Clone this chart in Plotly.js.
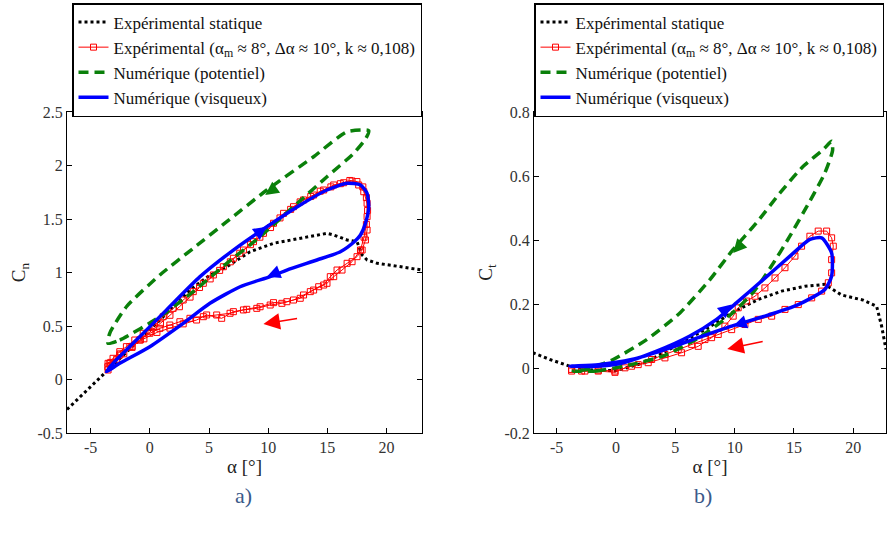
<!DOCTYPE html>
<html>
<head>
<meta charset="utf-8">
<script src="https://cdn.plot.ly/plotly-3.0.1.min.js"></script>
<style>html,body{margin:0;padding:0;background:#fff;}#chart{width:887px;height:540px;}</style>
</head>
<body>
<div id="chart"></div>
<script>
// ---------- (a) Cn ----------
const staticAlphaA = [-7, -5.3, -3.67, -1.5, 0.85, 3.39, 5.0, 6.5, 8.47, 10.45, 12.71, 14.97, 15.54, 16.67, 17.51, 17.94, 18.36, 19.21, 20.6, 23.0];
const staticCn     = [-0.28, -0.1, 0.073, 0.31, 0.556, 0.836, 0.97, 1.054, 1.194, 1.273, 1.32, 1.366, 1.35, 1.304, 1.288, 1.164, 1.117, 1.086, 1.064, 1.023];

const expAlphaA = [-3.53, -3.11, -2.54, -1.98, -1.27, -0.56, 0.28, 1.13, 1.97, 2.82, 3.67, 4.52, 5.37, 6.21, 7.06, 7.91, 8.76, 9.6, 10.45, 11.3, 12.14, 12.99, 13.84, 14.69, 15.54, 16.38, 17.09, 17.65, 18.08, 18.36, 18.36, 18.36, 18.22, 17.94,
  17.51, 16.67, 15.82, 15.25, 14.69, 13.84, 12.99, 12.14, 11.16, 10.17, 9.04, 7.91, 6.78, 5.65, 4.52, 3.39, 2.54, 1.69, 0.85, 0, -0.85, -1.69, -2.54, -3.39, -3.53,
  -3.3, -2.8, -2.2, -1.5, -0.8, 0.1, 0.9, 1.7, 2.5, 3.4, 4.2, 5.1, 5.9, 6.8, 7.6, 8.5, 9.3, 10.2, 11.0, 11.9, 12.7, 13.6, 14.4, 15.3, 16.1, 16.9, 17.5, 18.0, 18.3, 18.4, 18.3, 18.1, 17.8,
  17.09, 16.24, 15.54, 14.97, 14.27, 13.56, 12.71, 11.58, 10.45, 9.32, 8.19, 7.06, 6.07, 4.8, 3.95, 2.82, 1.7, 0.6, -0.5, -1.5, -2.5, -3.3, -3.55];
const expCn = [0.151, 0.198, 0.26, 0.307, 0.369, 0.432, 0.494, 0.587, 0.665, 0.743, 0.821, 0.899, 0.977, 1.054, 1.133, 1.21, 1.288, 1.366, 1.46, 1.553, 1.615, 1.678, 1.724, 1.771, 1.818, 1.839, 1.855, 1.818, 1.755, 1.647, 1.522, 1.397, 1.304, 1.21,
  1.148, 1.086, 1.023, 0.961, 0.883, 0.836, 0.79, 0.743, 0.712, 0.696, 0.665, 0.65, 0.619, 0.603, 0.587, 0.572, 0.54, 0.509, 0.478, 0.432, 0.369, 0.307, 0.229, 0.151, 0.089,
  0.13, 0.19, 0.24, 0.3, 0.37, 0.45, 0.52, 0.6, 0.68, 0.77, 0.86, 0.94, 1.02, 1.1, 1.18, 1.26, 1.33, 1.42, 1.51, 1.59, 1.66, 1.71, 1.76, 1.8, 1.83, 1.86, 1.85, 1.8, 1.7, 1.58, 1.45, 1.33, 1.21,
  1.101, 1.023, 0.961, 0.899, 0.867, 0.821, 0.759, 0.727, 0.718, 0.68, 0.656, 0.634, 0.572, 0.603, 0.556, 0.52, 0.48, 0.44, 0.38, 0.31, 0.24, 0.16, 0.12];

const potAlphaA = [-3.53, -2.54, 0.85, 3.67, 6.5, 9.32, 12.14, 14.97, 17.23, 18.26, 18.5, 16.67, 13.84, 9.89, 6.5, 3.67, 0.85, -1.98, -3.39, -3.53];
const potCn     = [0.338, 0.369, 0.587, 0.821, 1.086, 1.335, 1.615, 1.895, 2.114, 2.254, 2.325, 2.316, 2.082, 1.771, 1.475, 1.226, 0.977, 0.68, 0.432, 0.338];

const viscAlphaA = [-3.67, -3.11, -1.41, 1.41, 4.24, 7.06, 9.89, 12.71, 14.97, 16.67, 17.8, 18.36, 18.5, 18.22, 17.8, 17.3, 16.1, 14.12, 11.58, 10.17, 7.63, 5.08, 2.82, 0, -2.54, -3.67];
const viscCn     = [0.073, 0.151, 0.338, 0.65, 0.961, 1.21, 1.428, 1.631, 1.771, 1.834, 1.818, 1.74, 1.615, 1.46, 1.35, 1.29, 1.194, 1.117, 1.023, 0.961, 0.867, 0.712, 0.525, 0.307, 0.151, 0.073];

// ---------- (b) Ct ----------
const staticAlphaB = [-7, -5.56, -3.88, -2, 0, 2.5, 4.97, 7.5, 9.75, 11.99, 13.96, 15.92, 17.6, 19.0, 20.83, 21.96, 22.38, 22.75];
const staticCt     = [0.05, 0.029, 0.008, -0.004, -0.006, 0.02, 0.07, 0.122, 0.174, 0.216, 0.242, 0.257, 0.263, 0.23, 0.214, 0.195, 0.133, 0.06];

const expAlphaB = [-3.73, -2.61, -1.49, -0.08, 1.32, 2.72, 4.13, 5.53, 6.93, 8.06, 9.18, 9.88, 10.3, 11.01, 11.71, 12.55, 13.4, 14.24, 15.08, 15.64, 16.34, 17.04, 17.75, 18.17, 18.31, 18.17, 18.17, 17.89,
  17.33, 16.49, 15.36, 14.24, 13.12, 11.99, 10.87, 9.75, 8.62, 7.5, 6.38, 5.25, 4.13, 3.01, 1.88, 0.76, -0.08, -1.49, -2.89, -3.73];
const expCt = [-0.007, -0.007, -0.004, -0.007, 0.008, 0.019, 0.034, 0.05, 0.07, 0.097, 0.133, 0.164, 0.19, 0.211, 0.226, 0.252, 0.283, 0.315, 0.351, 0.382, 0.413, 0.429, 0.429, 0.408, 0.382, 0.34, 0.299, 0.268,
  0.242, 0.221, 0.2, 0.185, 0.164, 0.154, 0.138, 0.122, 0.107, 0.091, 0.076, 0.06, 0.045, 0.029, 0.013, 0.003, -0.011, -0.007, -0.007, -0.002];

const potAlphaB = [-3.6, -1.63, 1.18, 4.0, 6.9, 9.7, 11.6, 13.1, 14.6, 16.3, 17.6, 18.25, 18.17, 17.47, 15.78, 13.82, 11.85, 9.88, 7.92, 5.39, 2.59, -0.23, -2.47, -3.6];
const potCt     = [-0.007, -0.007, 0.012, 0.04, 0.095, 0.17, 0.24, 0.32, 0.41, 0.52, 0.61, 0.68, 0.709, 0.683, 0.631, 0.548, 0.455, 0.372, 0.278, 0.174, 0.091, 0.029, -0.002, -0.007];

const viscAlphaB = [-3.88, -1.63, 0.62, 3.43, 6.23, 8.48, 10.17, 12.41, 14.66, 16.34, 17.33, 18.17, 18.17, 17.6, 15.36, 12.55, 9.75, 6.93, 4.13, 1.32, -1.49, -3.88];
const viscCt     = [0.008, 0.008, 0.019, 0.055, 0.102, 0.154, 0.206, 0.278, 0.351, 0.403, 0.408, 0.361, 0.289, 0.247, 0.2, 0.164, 0.133, 0.097, 0.06, 0.029, 0.013, 0.008];

// ---------- labels / ticks ----------
const seriesNames = ['Expérimental statique', 'Expérimental (α<sub>m</sub> ≈ 8°, Δα ≈ 10°, k ≈ 0,108)', 'Numérique (potentiel)', 'Numérique (visqueux)'];
const xTickVals = [-5, 0, 5, 10, 15, 20];
const xTickText = ['-5', '0', '5', '10', '15', '20'];
const cnTickVals = [-0.5, 0, 0.5, 1, 1.5, 2, 2.5];
const cnTickText = ['-0.5', '0', '0.5', '1', '1.5', '2', '2.5'];
const ctTickVals = [-0.2, 0, 0.2, 0.4, 0.6, 0.8];
const ctTickText = ['-0.2', '0', '0.2', '0.4', '0.6', '0.8'];
const panelLabels = ['a)', 'b)'];

const SERIF = '"Liberation Serif", "Times New Roman", serif';
const W = 887, H = 540;

function panelTraces(xa, ya, leg, sets) {
  const [sA, sY, eA, eY, pA, pY, vA, vY] = sets;
  return [
    {x: sA, y: sY, xaxis: xa, yaxis: ya, legend: leg, legendgroup: leg + 's', name: seriesNames[0], mode: 'lines',
     line: {color: '#000', width: 3, dash: 'dot'}},
    {x: eA, y: eY, xaxis: xa, yaxis: ya, legend: leg, legendgroup: leg + 'e', name: seriesNames[1], mode: 'lines+markers',
     line: {color: '#ff0000', width: 1}, marker: {symbol: 'square-open', size: 6, color: '#ff0000', line: {width: 1}}},
    {x: pA, y: pY, xaxis: xa, yaxis: ya, legend: leg, legendgroup: leg + 'p', name: seriesNames[2], mode: 'lines',
     line: {color: '#0a800a', width: 3.5, dash: '10px,6px', shape: 'spline', smoothing: 0.6}},
    {x: vA, y: vY, xaxis: xa, yaxis: ya, legend: leg, legendgroup: leg + 'v', name: seriesNames[3], mode: 'lines',
     line: {color: '#0000ff', width: 3.5, shape: 'spline', smoothing: 0.6}}
  ];
}

const data = [].concat(
  panelTraces('x', 'y', 'legend', [staticAlphaA, staticCn, expAlphaA, expCn, potAlphaA, potCn, viscAlphaA, viscCn]),
  panelTraces('x2', 'y2', 'legend2', [staticAlphaB, staticCt, expAlphaB, expCt, potAlphaB, potCt, viscAlphaB, viscCt])
);

function axisBase(extra) {
  return Object.assign({
    showline: true, linecolor: '#000', linewidth: 1, mirror: 'ticks',
    ticks: 'inside', ticklen: 5, tickwidth: 1, tickcolor: '#000',
    showgrid: false, zeroline: false, tickmode: 'array',
    tickfont: {family: SERIF, size: 16, color: '#333'}
  }, extra);
}

const legendBase = {yanchor: 'top', y: 1 - 3 / H, bgcolor: '#fff', bordercolor: '#000', borderwidth: 1.5,
  font: {family: SERIF, size: 17, color: '#111'}, traceorder: 'grouped', tracegroupgap: 0, itemwidth: 30};

const layout = {
  width: W, height: H,
  margin: {l: 0, r: 0, t: 0, b: 0, autoexpand: false},
  paper_bgcolor: '#fff', plot_bgcolor: '#fff',
  font: {family: SERIF, color: '#000'},
  xaxis: axisBase({domain: [67 / W, 422 / W], range: [-7, 23], anchor: 'y', tickvals: xTickVals, ticktext: xTickText,
    title: {text: 'α [°]', font: {family: SERIF, size: 19, color: '#222'}, standoff: 4}}),
  yaxis: axisBase({domain: [1 - 433 / H, 1 - 112 / H], range: [-0.5, 2.5], anchor: 'x', tickvals: cnTickVals, ticktext: cnTickText,
    title: {text: 'C<sub>n</sub>', font: {family: SERIF, size: 19, color: '#222'}, standoff: 6}}),
  xaxis2: axisBase({domain: [534 / W, 886 / W], range: [-6.9, 22.75], anchor: 'y2', tickvals: xTickVals, ticktext: xTickText,
    title: {text: 'α [°]', font: {family: SERIF, size: 19, color: '#222'}, standoff: 4}}),
  yaxis2: axisBase({domain: [1 - 433 / H, 1 - 112 / H], range: [-0.2, 0.8], anchor: 'x2', tickvals: ctTickVals, ticktext: ctTickText,
    title: {text: 'C<sub>t</sub>', font: {family: SERIF, size: 19, color: '#222'}, standoff: 6}}),
  legend: Object.assign({x: 72 / W, xanchor: 'left'}, legendBase),
  legend2: Object.assign({x: 884 / W, xanchor: 'right'}, legendBase),
  annotations: [
    // direction arrows on curves, panel (a)
    {xref: 'x', yref: 'y', x: 9.75, y: 1.724, ax: 12, ay: -8.6, text: '', showarrow: true, arrowhead: 2, arrowsize: 0.9, arrowwidth: 3, arrowcolor: '#0a800a', standoff: 0},
    {xref: 'x', yref: 'y', x: 9.89, y: 1.428, ax: -12, ay: 8.5, text: '', showarrow: true, arrowhead: 2, arrowsize: 0.9, arrowwidth: 3, arrowcolor: '#0000ff', standoff: 0},
    {xref: 'x', yref: 'y', x: 9.89, y: 0.961, ax: 13, ay: -5, text: '', showarrow: true, arrowhead: 2, arrowsize: 0.9, arrowwidth: 3, arrowcolor: '#0000ff', standoff: 0},
    {xref: 'x', yref: 'y', x: 9.6, y: 0.519, axref: 'x', ayref: 'y', ax: 12.57, ay: 0.572, text: '', showarrow: true, arrowhead: 2, arrowsize: 2.2, arrowwidth: 1.5, arrowcolor: '#ff0000', standoff: 0},
    // panel (b)
    {xref: 'x2', yref: 'y2', x: 9.88, y: 0.361, ax: 9, ay: -10, text: '', showarrow: true, arrowhead: 2, arrowsize: 0.9, arrowwidth: 3, arrowcolor: '#0a800a', standoff: 0},
    {xref: 'x2', yref: 'y2', x: 9.75, y: 0.2, ax: -11, ay: 9, text: '', showarrow: true, arrowhead: 2, arrowsize: 0.9, arrowwidth: 3, arrowcolor: '#0000ff', standoff: 0},
    {xref: 'x2', yref: 'y2', x: 9.88, y: 0.133, ax: 12, ay: -4, text: '', showarrow: true, arrowhead: 2, arrowsize: 0.9, arrowwidth: 3, arrowcolor: '#0000ff', standoff: 0},
    {xref: 'x2', yref: 'y2', x: 9.38, y: 0.062, axref: 'x2', ayref: 'y2', ax: 12.49, ay: 0.086, text: '', showarrow: true, arrowhead: 2, arrowsize: 2.2, arrowwidth: 1.5, arrowcolor: '#ff0000', standoff: 0},
    // panel labels
    {xref: 'paper', yref: 'paper', x: 243 / W, y: 1 - 495 / H, xanchor: 'center', yanchor: 'middle', text: panelLabels[0], showarrow: false, font: {family: SERIF, size: 22, color: '#3b5a8a'}},
    {xref: 'paper', yref: 'paper', x: 703 / W, y: 1 - 495 / H, xanchor: 'center', yanchor: 'middle', text: panelLabels[1], showarrow: false, font: {family: SERIF, size: 22, color: '#3b5a8a'}}
  ]
};

Plotly.newPlot('chart', data, layout, {displayModeBar: false, staticPlot: true});
</script>
</body>
</html>
